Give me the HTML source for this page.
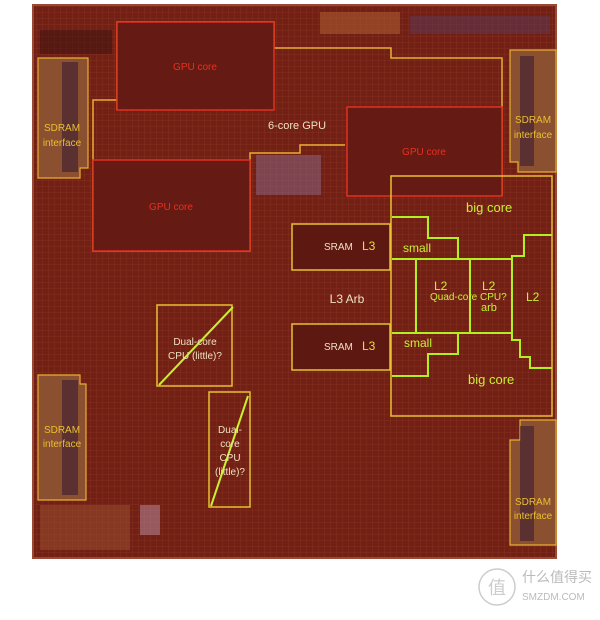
<!DOCTYPE html>
<html><head><style>
body{margin:0;background:#fff;width:600px;height:620px;overflow:hidden}
svg{display:block}
text{font-family:"Liberation Sans",sans-serif}
</style></head><body>
<svg width="600" height="620" viewBox="0 0 600 620">
<defs>
<pattern id="g" width="6" height="6" patternUnits="userSpaceOnUse">
<rect width="6" height="6" fill="#722016"/>
<path d="M0 0H6M0 0V6" stroke="#83301e" stroke-width="1"/>
</pattern>
</defs>
<rect x="33" y="5" width="523" height="553" fill="url(#g)"/>
<rect x="33" y="5" width="523" height="553" fill="none" stroke="#9a4a34" stroke-width="2"/>
<rect x="320" y="12" width="80" height="22" fill="#a85a30" opacity=".6"/>
<rect x="410" y="16" width="140" height="18" fill="#5a3a5a" opacity=".5"/>
<rect x="40" y="30" width="72" height="24" fill="#3a1010" opacity=".5"/>
<polyline points="117,110 117,22 274,22 274,48 391,48 391,58 502,58 502,196" fill="none" stroke="#e8b030" stroke-width="1.5"/>
<polyline points="117,100 93,100 93,251 250,251 250,153 300,153 300,145 345,145" fill="none" stroke="#e8b030" stroke-width="1.5"/>
<rect x="117" y="22" width="157" height="88" fill="#661a14" stroke="#e03020" stroke-width="1.5"/>
<rect x="93" y="160" width="157" height="91" fill="#661a14" stroke="#e03020" stroke-width="1.5"/>
<rect x="347" y="107" width="155" height="89" fill="#661a14" stroke="#e03020" stroke-width="1.5"/>
<rect x="256" y="155" width="65" height="40" fill="#8a6a8a" opacity=".5"/>
<text x="195" y="70" fill="#e83020" font-size="10" text-anchor="middle">GPU core</text>
<text x="171" y="210" fill="#e83020" font-size="10" text-anchor="middle">GPU core</text>
<text x="424" y="155" fill="#e83020" font-size="10" text-anchor="middle">GPU core</text>
<text x="297" y="129" fill="#f0e0c0" font-size="11" text-anchor="middle">6-core GPU</text>
<g fill="#8a5030" stroke="#e8b030" stroke-width="1.2">
<polygon points="38,58 88,58 88,168 80,168 80,178 38,178"/>
<polygon points="510,50 556,50 556,172 518,172 518,162 510,162"/>
<polygon points="38,375 80,375 80,384 86,384 86,500 38,500"/>
<polygon points="516,440 520,440 520,420 556,420 556,545 510,545 510,440"/>
</g>
<g fill="#3a1a30" opacity=".6">
<rect x="62" y="62" width="16" height="110"/><rect x="520" y="56" width="14" height="110"/>
<rect x="62" y="380" width="16" height="115"/><rect x="520" y="426" width="14" height="115"/>
</g>
<g fill="#e8c030" font-size="10" text-anchor="middle">
<text x="62" y="131">SDRAM</text><text x="62" y="146">interface</text>
<text x="533" y="123">SDRAM</text><text x="533" y="138">interface</text>
<text x="62" y="433">SDRAM</text><text x="62" y="447">interface</text>
<text x="533" y="505">SDRAM</text><text x="533" y="519">interface</text>
</g>
<rect x="292" y="224" width="98" height="46" fill="#5e1812" stroke="#e8c030" stroke-width="1.5"/>
<rect x="292" y="324" width="98" height="46" fill="#5e1812" stroke="#e8c030" stroke-width="1.5"/>
<text x="324" y="250" fill="#f0e0c0" font-size="10">SRAM</text><text x="362" y="250" fill="#e8e030" font-size="12">L3</text>
<text x="324" y="350" fill="#f0e0c0" font-size="10">SRAM</text><text x="362" y="350" fill="#e8e030" font-size="12">L3</text>
<text x="347" y="303" fill="#f0e0c0" font-size="12" text-anchor="middle">L3 Arb</text>
<rect x="391" y="176" width="161" height="240" fill="none" stroke="#e8c030" stroke-width="1.5"/>
<g fill="none" stroke="#b0f020" stroke-width="2">
<polyline points="392,217 428,217 428,238 458,238 458,259 512,259 512,256 524,256 524,235 552,235"/>
<polyline points="392,259 458,259"/>
<polyline points="416,259 416,332"/>
<polyline points="470,259 470,332"/>
<polyline points="512,259 512,332"/>
<polyline points="392,333 458,333 458,354 428,354 428,376 392,376"/>
<polyline points="458,333 512,333 512,340 520,340 520,357 530,357 530,368 552,368"/>
</g>
<g fill="#c8f030">
<text x="466" y="212" font-size="13">big core</text>
<text x="403" y="252" font-size="12">small</text>
<text x="404" y="347" font-size="12">small</text>
<text x="434" y="290" font-size="12">L2</text>
<text x="482" y="290" font-size="12">L2</text>
<text x="526" y="301" font-size="12">L2</text>
<text x="481" y="311" font-size="11">arb</text>
<text x="430" y="300" font-size="10">Quad-core CPU?</text>
<text x="468" y="384" font-size="13">big core</text>
</g>
<rect x="157" y="305" width="75" height="81" fill="none" stroke="#e8c030" stroke-width="1.5"/>
<line x1="159" y1="385" x2="233" y2="307" stroke="#c8f030" stroke-width="2"/>
<text x="195" y="345" fill="#f0e0c0" font-size="10" text-anchor="middle">Dual-core</text>
<text x="195" y="359" fill="#f0e0c0" font-size="10" text-anchor="middle">CPU (little)?</text>
<rect x="209" y="392" width="41" height="115" fill="none" stroke="#e8c030" stroke-width="1.5"/>
<line x1="211" y1="506" x2="248" y2="396" stroke="#c8f030" stroke-width="2"/>
<g fill="#f0e0c0" font-size="10" text-anchor="middle">
<text x="230" y="433">Dual-</text><text x="230" y="447">core</text><text x="230" y="461">CPU</text><text x="230" y="475">(little)?</text>
</g>
<rect x="140" y="505" width="20" height="30" fill="#b08090" opacity=".6"/>
<rect x="40" y="505" width="90" height="45" fill="#9a5030" opacity=".5"/>
<circle cx="497" cy="587" r="18" fill="none" stroke="#ccc" stroke-width="1.5"/>
<text x="497" y="594" fill="#ccc" font-size="18" text-anchor="middle" font-family="Noto Sans CJK SC,sans-serif">值</text>
<text x="522" y="582" fill="#bbb" font-size="14" font-family="Noto Sans CJK SC,sans-serif">什么值得买</text>
<text x="522" y="600" fill="#bbb" font-size="10">SMZDM.COM</text>
</svg>
</body></html>
